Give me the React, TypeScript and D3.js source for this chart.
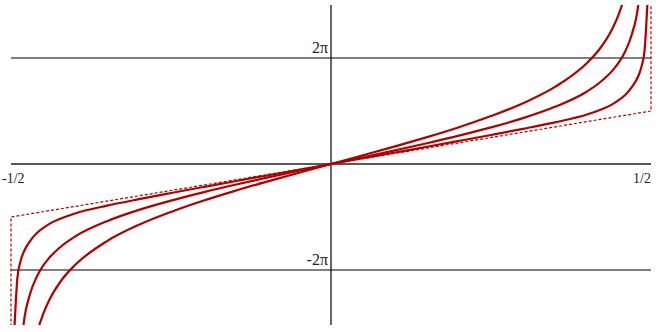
import React from "react";
import * as d3 from "d3";

const W = 664;
const H = 332;
const PI = Math.PI;

// x positions (right half and mirrored left half) for each curve, with read values
const curve1X = [-0.47, -0.46, -0.45, -0.44, -0.42, -0.4, -0.35, -0.3, -0.25, -0.2, -0.15, -0.1, -0.05, 0, 0.05, 0.1, 0.15, 0.2, 0.25, 0.3, 0.35, 0.4, 0.42, 0.44, 0.45, 0.46, 0.47];
const curve1Y = [-11.95, -10.1, -8.92, -8.05, -6.83, -5.99, -4.57, -3.6, -2.84, -2.18, -1.59, -1.042, -0.515, 0, 0.515, 1.042, 1.59, 2.18, 2.84, 3.6, 4.57, 5.99, 6.83, 8.05, 8.92, 10.1, 11.95];

const curve2X = [-0.49, -0.48, -0.47, -0.46, -0.45, -0.44, -0.42, -0.4, -0.35, -0.3, -0.25, -0.2, -0.15, -0.1, -0.05, 0, 0.05, 0.1, 0.15, 0.2, 0.25, 0.3, 0.35, 0.4, 0.42, 0.44, 0.45, 0.46, 0.47, 0.48, 0.49];
const curve2Y = [-13.9, -9.4, -7.68, -6.7, -6.04, -5.55, -4.83, -4.3, -3.39, -2.72, -2.17, -1.68, -1.23, -0.81, -0.4, 0, 0.4, 0.81, 1.23, 1.68, 2.17, 2.72, 3.39, 4.3, 4.83, 5.55, 6.04, 6.7, 7.68, 9.4, 13.9];

const curve3X = [-0.495, -0.49, -0.485, -0.48, -0.47, -0.46, -0.45, -0.44, -0.42, -0.4, -0.35, -0.3, -0.25, -0.2, -0.15, -0.1, -0.05, 0, 0.05, 0.1, 0.15, 0.2, 0.25, 0.3, 0.35, 0.4, 0.42, 0.44, 0.45, 0.46, 0.47, 0.48, 0.485, 0.49, 0.495];
const curve3Y = [-10.0, -6.75, -5.75, -5.2, -4.55, -4.1, -3.8, -3.55, -3.2, -2.93, -2.47, -2.083, -1.72, -1.368, -1.022, -0.68, -0.339, 0, 0.339, 0.68, 1.022, 1.368, 1.72, 2.083, 2.47, 2.93, 3.2, 3.55, 3.8, 4.1, 4.55, 5.2, 5.75, 6.75, 10.0];

// limit sawtooth (dashed)
const limitX = [-0.5, -0.5, 0.5, 0.5];
const limitY = [-12, -PI, PI, 12];

// reference lines and labels
const hLines = [2 * PI, -2 * PI];
const yLabels = [
  { v: 2 * PI, text: "2π" },
  { v: -2 * PI, text: "-2π" },
];
const xLabels = [
  { v: -0.5, text: "-1/2", anchor: "start" },
  { v: 0.5, text: "1/2", anchor: "end" },
];

const RED = "#b00000";

export default function App() {
  const x = d3.scaleLinear().domain([-0.5, 0.5]).range([11, 651]);
  const y = d3.scaleLinear().domain([-2 * PI, 2 * PI]).range([270, 58]);
  const top = 5;
  const bottom = 325;

  const line = d3
    .line<[number, number]>()
    .x((d) => x(d[0]))
    .y((d) => y(d[1]))
    .curve(d3.curveMonotoneX);
  const straight = d3
    .line<[number, number]>()
    .x((d) => x(d[0]))
    .y((d) => y(d[1]));

  const zip = (xs: number[], ys: number[]) => xs.map((v, i) => [v, ys[i]] as [number, number]);

  const curves = [zip(curve1X, curve1Y), zip(curve2X, curve2Y), zip(curve3X, curve3Y)];

  return (
    <svg
      width={W}
      height={H}
      style={{ position: "absolute", left: 0, top: 0, background: "#fff" }}
      fontFamily="'Liberation Serif', 'DejaVu Serif', serif"
    >
      <defs>
        <clipPath id="plotclip">
          <rect x={x(-0.5) - 2} y={top} width={x(0.5) - x(-0.5) + 4} height={bottom - top} />
        </clipPath>
      </defs>
      {hLines.map((v, i) => (
        <line key={i} x1={x(-0.5)} x2={x(0.5)} y1={y(v)} y2={y(v)} stroke="#000" strokeWidth={1.1} />
      ))}
      <line x1={x(-0.5)} x2={x(0.5)} y1={y(0)} y2={y(0)} stroke="#222" strokeWidth={1.5} />
      <line x1={x(0)} x2={x(0)} y1={top} y2={bottom} stroke="#000" strokeWidth={1.2} />
      <g clipPath="url(#plotclip)">
        <path
          d={straight(zip(limitX, limitY)) || ""}
          fill="none"
          stroke={RED}
          strokeWidth={1.2}
          strokeDasharray="3,2"
        />
        {curves.map((c, i) => (
          <path key={i} d={line(c) || ""} fill="none" stroke={RED} strokeWidth={2.2} />
        ))}
      </g>
      {yLabels.map((l, i) => (
        <text key={i} x={x(0) - 3} y={y(l.v) - 5} textAnchor="end" fontSize={16} fill="#222">
          {l.text}
        </text>
      ))}
      {xLabels.map((l, i) => (
        <text
          key={i}
          x={l.anchor === "start" ? x(l.v) - 9 : x(l.v)}
          y={y(0) + 19}
          textAnchor={l.anchor as any}
          fontSize={14}
          fill="#222"
        >
          {l.text}
        </text>
      ))}
    </svg>
  );
}
